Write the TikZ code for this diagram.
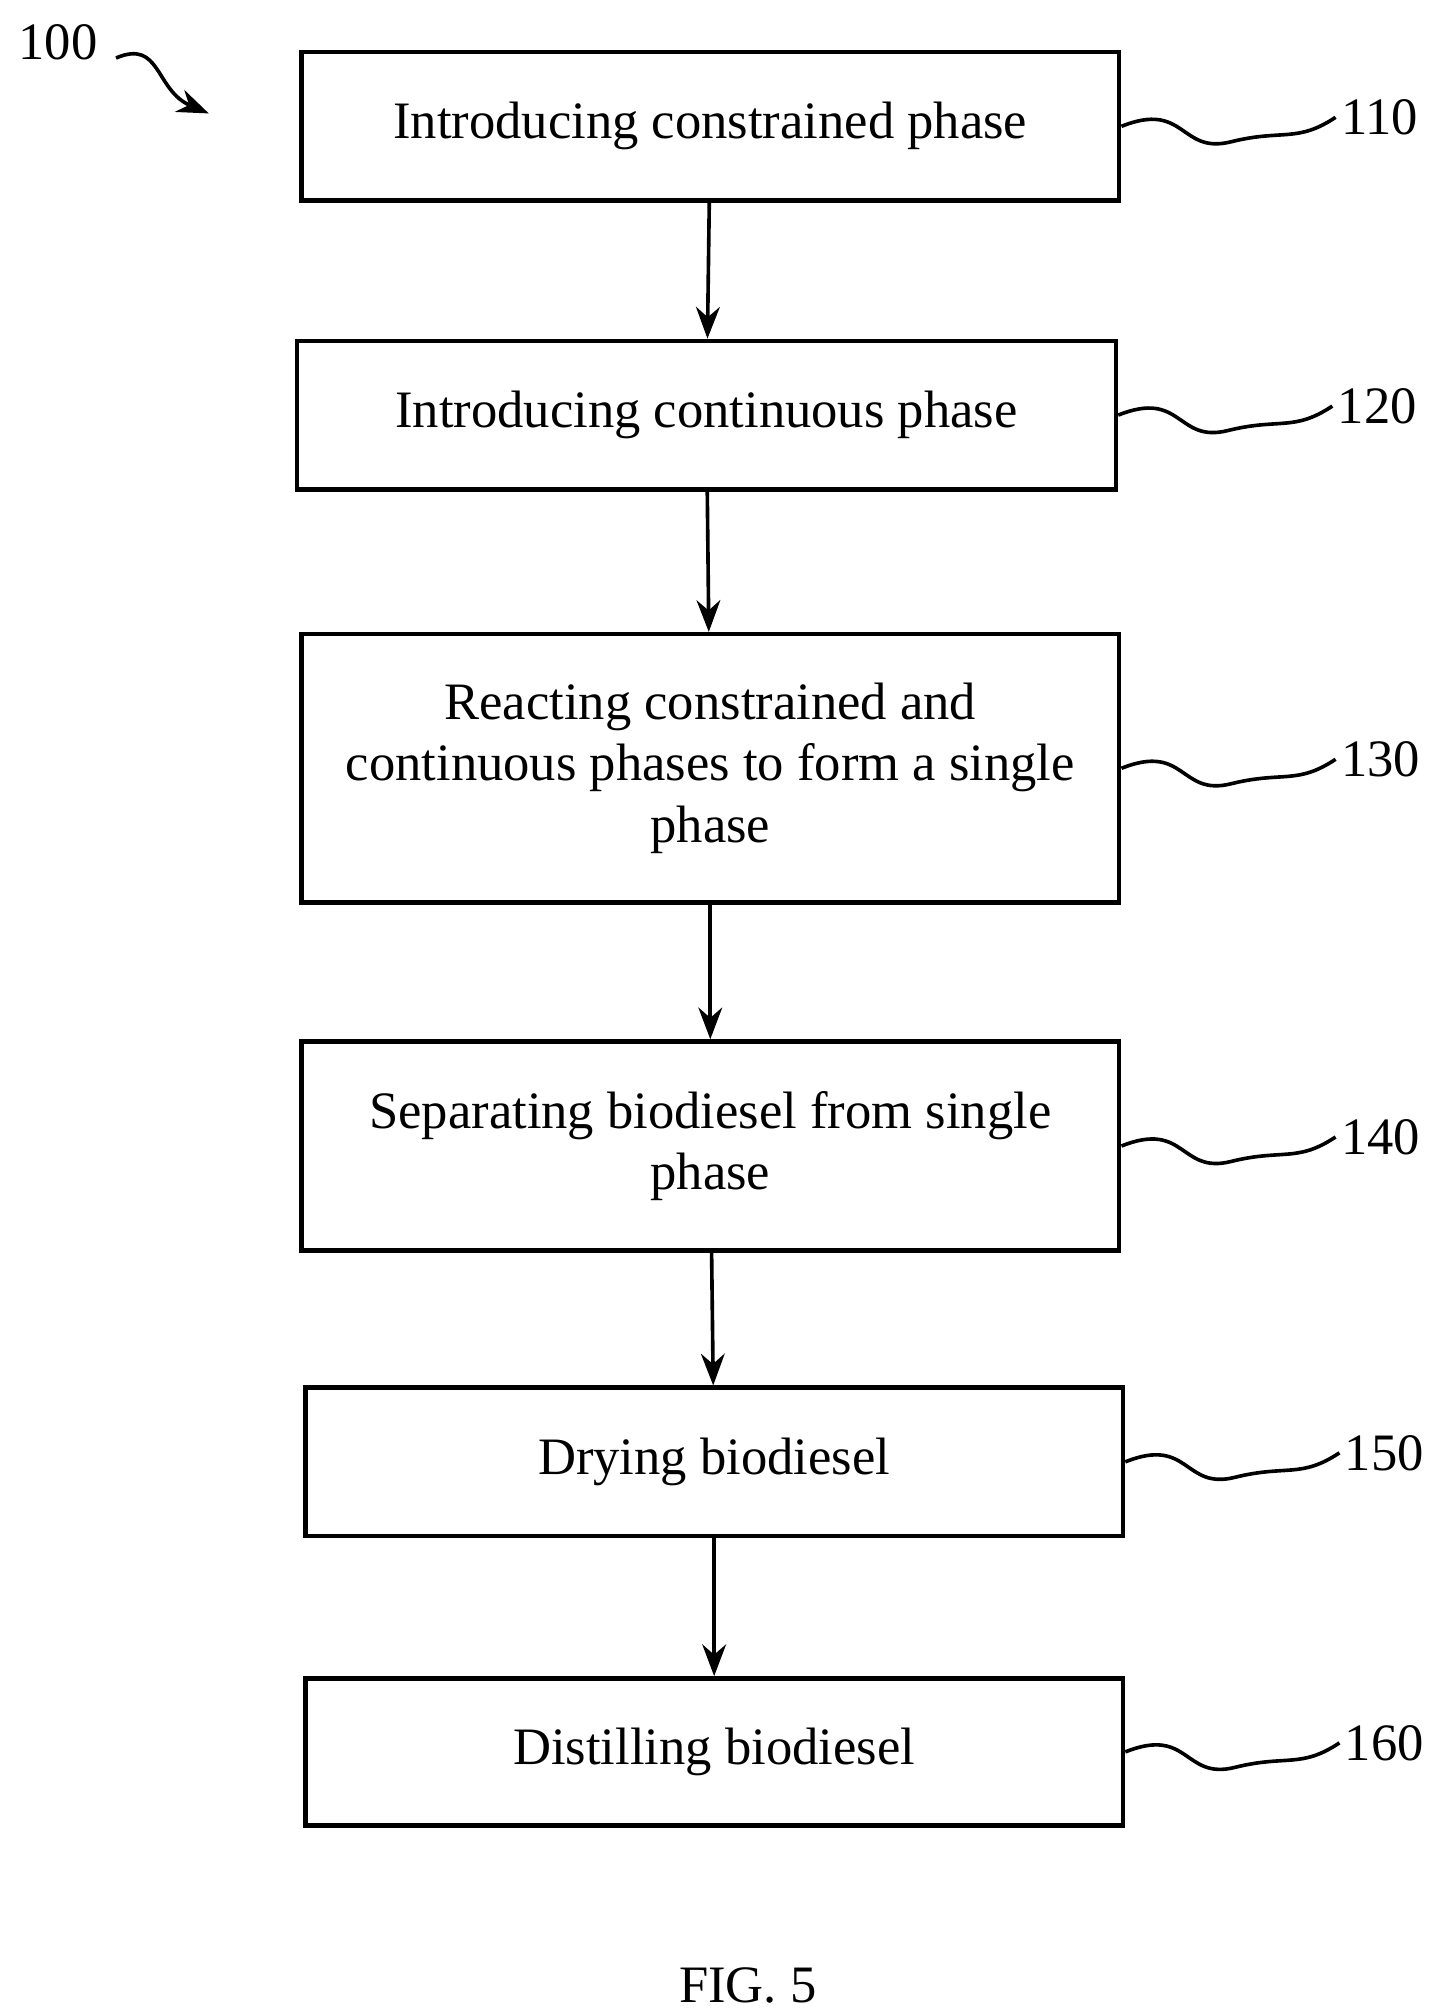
\documentclass[tikz,border=0pt]{standalone}
\usepackage{fontspec}
\setmainfont{Liberation Serif}
\usetikzlibrary{arrows.meta}
\tikzset{
  stepbox/.style={draw, line width=1pt, align=center, font=\fontsize{11.6}{13.5}\selectfont},
  flow/.style={-{Stealth[length=7pt]}, line width=0.8pt},
  wave/.style={line width=0.8pt},
  ref/.style={font=\fontsize{11.6}{14}\selectfont, anchor=west, inner sep=1pt}
}
\begin{document}
\begin{tikzpicture}[x=0.01cm,y=-0.01cm]
  \useasboundingbox (0,0) rectangle (1110,1560);
%Schritte
  \node[stepbox, minimum width=6.34cm, minimum height=1.15cm] (s110) at (551,98) {Introducing constrained phase};
  \node[stepbox, minimum width=6.35cm, minimum height=1.15cm] (s120) at (548,322) {Introducing continuous phase};
  \node[stepbox, minimum width=6.34cm, minimum height=2.08cm] (s130) at (551,596) {Reacting constrained and\\continuous phases to form a single\\phase};
  \node[stepbox, minimum width=6.34cm, minimum height=1.62cm] (s140) at (551,889) {Separating biodiesel from single\\phase};
  \node[stepbox, minimum width=6.34cm, minimum height=1.15cm] (s150) at (554,1134) {Drying biodiesel};
  \node[stepbox, minimum width=6.34cm, minimum height=1.14cm] (s160) at (554,1359) {Distilling biodiesel};
%Pfeile
  \draw[flow] (s110) -- (s120);
  \draw[flow] (s120) -- (s130);
  \draw[flow] (s130) -- (s140);
  \draw[flow] (s140) -- (s150);
  \draw[flow] (s150) -- (s160);
%Bezugszeichen
  \foreach \s/\n in {s110/110,s120/120,s130/130,s140/140,s150/150,s160/160}{
    \node[ref] (r\n) at ([xshift=1.66cm,yshift=0.07cm]\s.east) {\n};
    \draw[wave] (\s.east) .. controls +(50,-20) and +(-40,10) .. +(85,12)
      .. controls +(40,-10) and +(-30,20) .. (r\n.west);
  }
  \node[font=\fontsize{11.6}{14}\selectfont] (r100) at (45,33) {100};
  \coordinate (a100) at (162,88);
  \draw[wave, -{Stealth[length=7pt]}] (90,45) .. controls (125,30) and (120,70) .. (a100);
%Titel
  \node[font=\fontsize{11.6}{14}\selectfont] (fig) at (580,1540) {FIG. 5};
\end{tikzpicture}
\end{document}
